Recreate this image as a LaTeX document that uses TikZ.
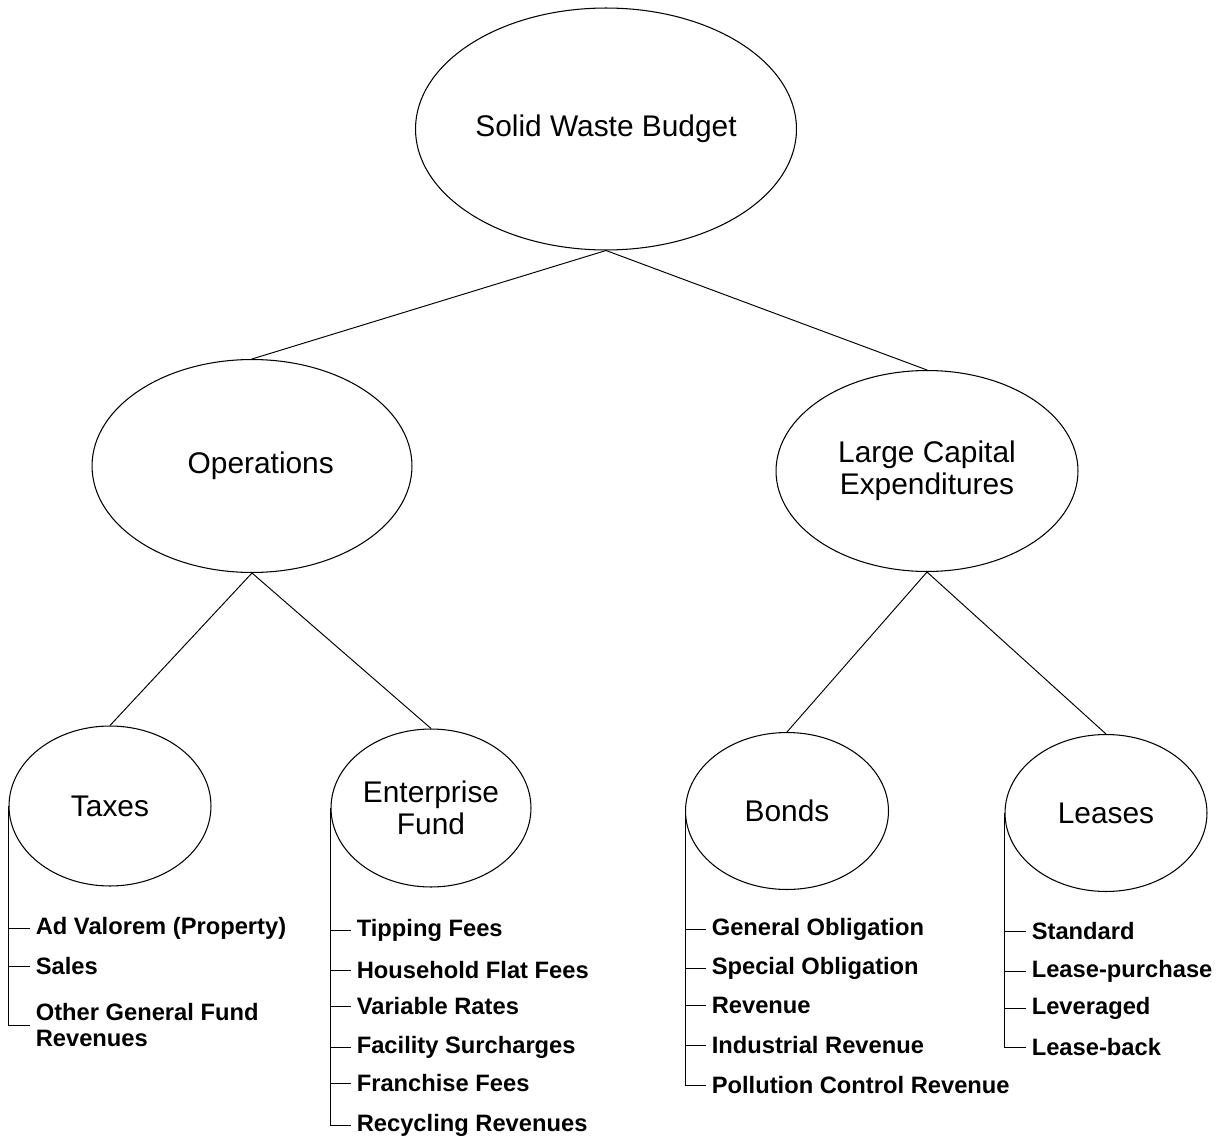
\documentclass[tikz,border=0pt]{standalone}
\usepackage{fontspec}
\setmainfont{Liberation Sans}
\usepackage{tikz}
\usetikzlibrary{shapes.geometric}

\begin{document}
\begin{tikzpicture}[
  x=0.02cm,y=-0.02cm,
  line width=0.6pt,
  oval/.style={draw,ellipse,inner sep=0pt,align=center,
    font=\fontsize{17}{18.5}\selectfont},
  item/.style={anchor=west,inner sep=3pt,align=left,
    font=\bfseries\fontsize{13.5}{15}\selectfont},
  link/.style={draw,line width=0.55pt}]
\useasboundingbox (0,0) rectangle (1217,1138);
% ovals
\node[oval,minimum width=7.62cm,minimum height=4.84cm] (budget) at (606,129) {Solid Waste Budget};
\node[oval,minimum width=6.4cm,minimum height=4.26cm] (ops) at (252,466) {\hspace*{0.35cm}Operations};
\node[oval,minimum width=6.04cm,minimum height=4.02cm] (capex) at (927,471) {Large Capital\\Expenditures};
\node[oval,minimum width=4.04cm,minimum height=3.2cm] (taxes) at (110,806) {Taxes};
\node[oval,minimum width=4.0cm,minimum height=3.16cm] (fund) at (431,808) {Enterprise\\Fund};
\node[oval,minimum width=4.06cm,minimum height=3.14cm] (bonds) at (787,811) {Bonds};
\node[oval,minimum width=4.04cm,minimum height=3.14cm] (leases) at (1106,813) {Leases};
\draw[link] (budget.south) -- (ops.north);
\draw[link] (budget.south) -- (capex.north);
\draw[link] (ops.south) -- (taxes.north);
\draw[link] (ops.south) -- (fund.north);
\draw[link] (capex.south) -- (bonds.north);
\draw[link] (capex.south) -- (leases.north);
% taxes
\node[item] (adval) at (30,928) {Ad Valorem (Property)};
\node[item] (sales) at (30,966) {Sales};
\node[item] (other) at (30,1025) {Other General Fund\\Revenues};
\draw[link] (taxes.west) -- (taxes.west |- other.west) -- (other.west);
\draw[link] (taxes.west |- adval.west) -- (adval.west);
\draw[link] (taxes.west |- sales.west) -- (sales.west);
% enterprise fund
\node[item] (tip) at (351,930) {Tipping Fees};
\node[item] (flat) at (351,970) {Household Flat Fees};
\node[item] (var) at (351,1006) {Variable Rates};
\node[item] (sur) at (351,1047) {Facility Surcharges};
\node[item] (fran) at (351,1083) {Franchise Fees};
\node[item] (recyc) at (351,1125) {Recycling Revenues};
\draw[link] (fund.west) -- (fund.west |- recyc.west) -- (recyc.west);
\draw[link] (fund.west |- tip.west) -- (tip.west);
\draw[link] (fund.west |- flat.west) -- (flat.west);
\draw[link] (fund.west |- var.west) -- (var.west);
\draw[link] (fund.west |- sur.west) -- (sur.west);
\draw[link] (fund.west |- fran.west) -- (fran.west);
% bonds
\node[item] (genob) at (706,929) {General Obligation};
\node[item] (specob) at (706,968) {Special Obligation};
\node[item] (rev) at (706,1005) {Revenue};
\node[item] (indrev) at (706,1045) {Industrial Revenue};
\node[item] (pollrev) at (706,1085) {Pollution Control Revenue};
\draw[link] (bonds.west) -- (bonds.west |- pollrev.west) -- (pollrev.west);
\draw[link] (bonds.west |- genob.west) -- (genob.west);
\draw[link] (bonds.west |- specob.west) -- (specob.west);
\draw[link] (bonds.west |- rev.west) -- (rev.west);
\draw[link] (bonds.west |- indrev.west) -- (indrev.west);
% leases
\node[item] (std) at (1026,931) {Standard};
\node[item] (lpur) at (1026,971) {Lease-purchase};
\node[item] (lev) at (1026,1008) {Leveraged};
\node[item] (lback) at (1026,1047) {Lease-back};
\draw[link] (leases.west) -- (leases.west |- lback.west) -- (lback.west);
\draw[link] (leases.west |- std.west) -- (std.west);
\draw[link] (leases.west |- lpur.west) -- (lpur.west);
\draw[link] (leases.west |- lev.west) -- (lev.west);
\end{tikzpicture}
\end{document}
